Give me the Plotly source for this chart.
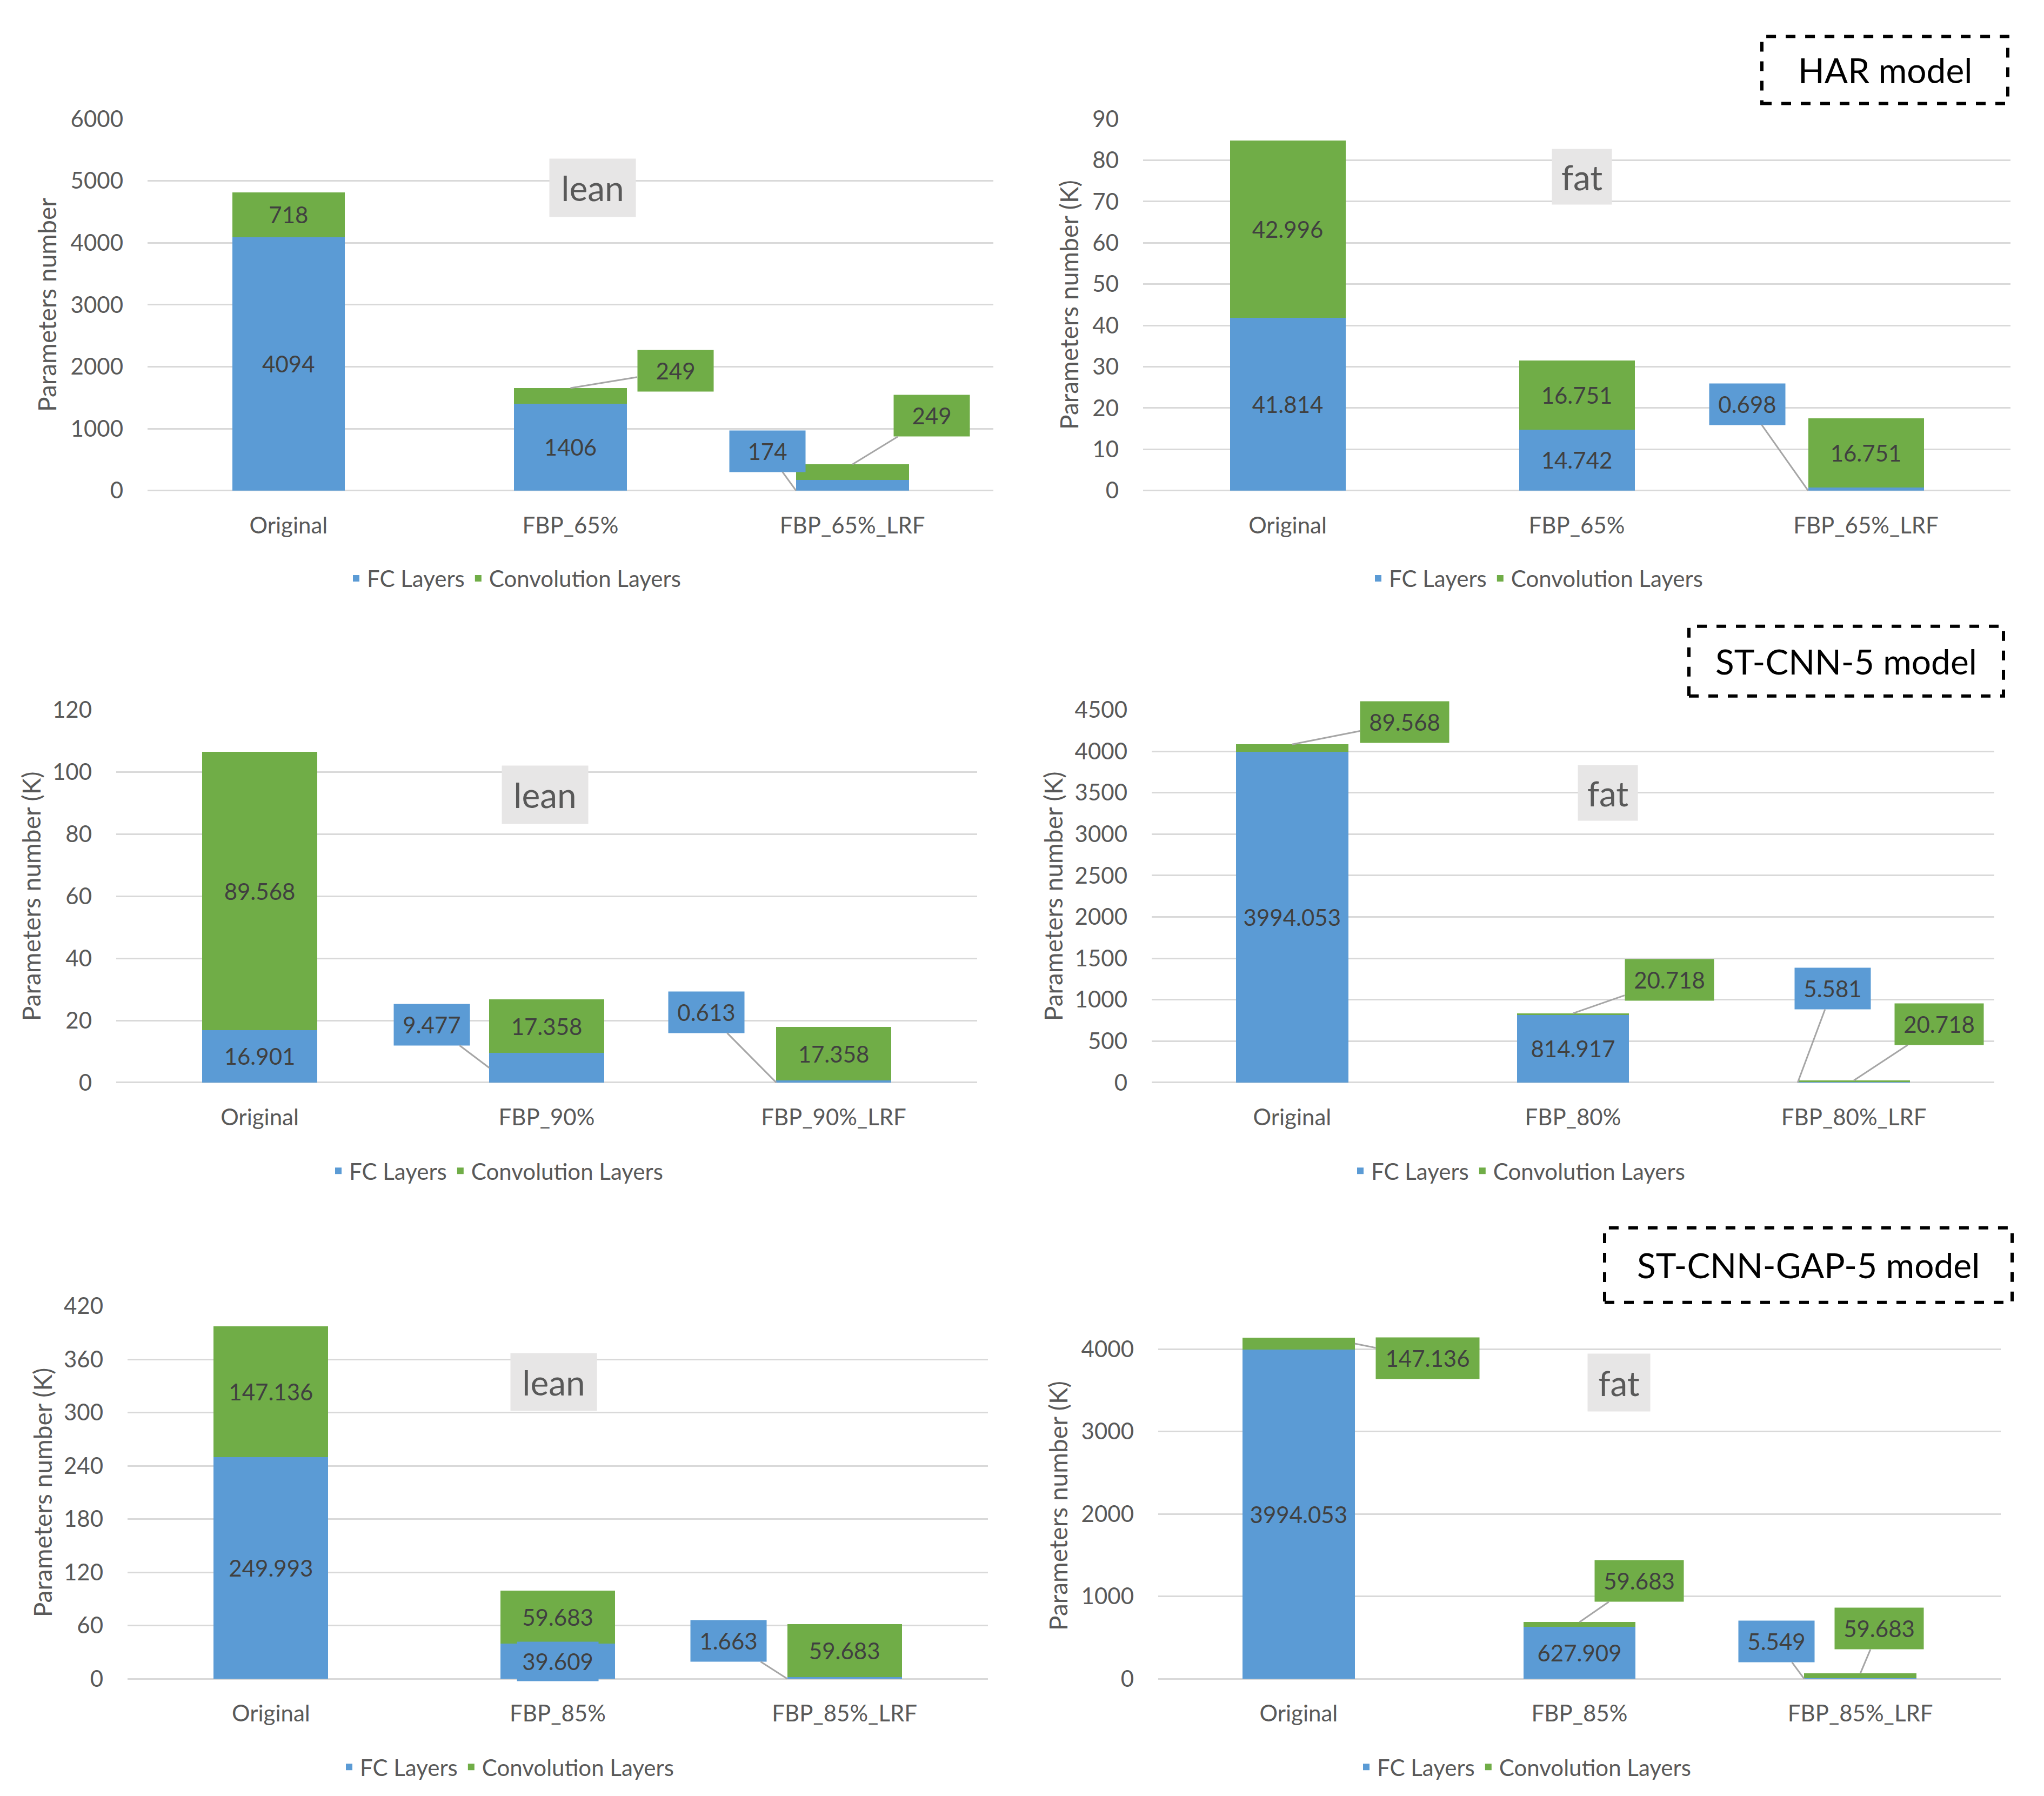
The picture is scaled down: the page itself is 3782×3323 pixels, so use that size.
import plotly.graph_objects as go

W, H = 3782, 3323
BLUE = "#5B9BD5"
GREEN = "#70AD47"
GRID = "#D9D9D9"
TXT = "#595959"
LBL = "#404040"
FONT = "Lato, 'Open Sans', sans-serif"

# HAR model
har_cats = ["Original", "FBP_65%", "FBP_65%_LRF"]
har_lean_fc = [4094, 1406, 174]
har_lean_conv = [718, 249, 249]
har_fat_fc = [41.814, 14.742, 0.698]
har_fat_conv = [42.996, 16.751, 16.751]

# ST-CNN-5 model
stcnn_lean_cats = ["Original", "FBP_90%", "FBP_90%_LRF"]
stcnn_lean_fc = [16.901, 9.477, 0.613]
stcnn_lean_conv = [89.568, 17.358, 17.358]
stcnn_fat_cats = ["Original", "FBP_80%", "FBP_80%_LRF"]
stcnn_fat_fc = [3994.053, 814.917, 5.581]
stcnn_fat_conv = [89.568, 20.718, 20.718]

# ST-CNN-GAP-5 model
gap_cats = ["Original", "FBP_85%", "FBP_85%_LRF"]
gap_lean_fc = [249.993, 39.609, 1.663]
gap_lean_conv = [147.136, 59.683, 59.683]
gap_fat_fc = [3994.053, 627.909, 5.549]
gap_fat_conv = [147.136, 59.683, 59.683]

series_names = ["FC Layers", "Convolution Layers"]

# layout of each panel in page pixels; callouts: (series, index, anchor, side, ax, ay)
panels = [
    dict(cats=har_cats, fc=har_lean_fc, conv=har_lean_conv, ymax=6000, dtick=1000,
         ytitle="Parameters number", box=(265, 1830, 189, 887), legend=(944, 1052),
         ytitle_x=79, tag="lean", tag_box=(1088, 318, 159, 107),
         callouts=[("conv", 1, "top", 0, 194, -32), ("fc", 2, "zero", -1, -53, -73),
                   ("conv", 2, "top", 0, 147, -90)]),
    dict(cats=har_cats, fc=har_fat_fc, conv=har_fat_conv, ymax=90, dtick=10,
         ytitle="Parameters number (K)", box=(2107, 3712, 189, 887), legend=(2835, 1052),
         ytitle_x=1970, tag="fat", tag_box=(2919, 297, 110, 102),
         callouts=[("fc", 2, "zero", -1, -113, -160)]),
    dict(cats=stcnn_lean_cats, fc=stcnn_lean_fc, conv=stcnn_lean_conv, ymax=120, dtick=20,
         ytitle="Parameters number (K)", box=(207, 1800, 1299, 1999), legend=(911, 2165),
         ytitle_x=49, tag="lean", tag_box=(1000, 1458, 159, 107),
         callouts=[("fc", 1, "mid", -1, -106, -80), ("fc", 2, "zero", -1, -129, -130)]),
    dict(cats=stcnn_fat_cats, fc=stcnn_fat_fc, conv=stcnn_fat_conv, ymax=4500, dtick=500,
         ytitle="Parameters number (K)", box=(2123, 3682, 1299, 1999), legend=(2802, 2165),
         ytitle_x=1940, tag="fat", tag_box=(2967, 1455, 110, 102),
         callouts=[("conv", 0, "top", 0, 208, -41), ("conv", 1, "top", 0, 178, -62),
                   ("fc", 2, "zero", -1, 65, -174), ("conv", 2, "top", 0, 158, -104)]),
    dict(cats=gap_cats, fc=gap_lean_fc, conv=gap_lean_conv, ymax=420, dtick=60,
         ytitle="Parameters number (K)", box=(228, 1820, 2419, 3119), legend=(931, 3285),
         ytitle_x=70, tag="lean", tag_box=(1016, 2562, 159, 106),
         callouts=[("fc", 2, "zero", -1, -109, -70)], boxed=[("fc", 1)]),
    dict(cats=gap_cats, fc=gap_fat_fc, conv=gap_fat_conv, ymax=4200, dtick=1000,
         ytitle="Parameters number (K)", box=(2135, 3694, 2469, 3119), legend=(2813, 3285),
         ytitle_x=1950, tag="fat", tag_box=(2987, 2563, 115, 106),
         callouts=[("conv", 0, "mid", 1, 135, 27), ("conv", 1, "top", 0, 110, -76),
                   ("fc", 2, "zero", -1, -51, -69), ("conv", 2, "top", 0, 35, -83)]),
]

model_boxes = [
    ("HAR model", (3252, 34, 3707, 160)),
    ("ST-CNN-5 model", (3117, 1142, 3699, 1273)),
    ("ST-CNN-GAP-5 model", (2961, 2272, 3715, 2412)),
]

fig = go.Figure()

for k, p in enumerate(panels, 1):
    sfx = "" if k == 1 else str(k)
    xa, ya, lg = "x" + sfx, "y" + sfx, "legend" + sfx
    x0, x1, yt, yb = p["box"]
    skip = {(c[0], c[1]) for c in p["callouts"]} | set(p.get("boxed", []))
    for s, vals, color, name in [("fc", p["fc"], BLUE, series_names[0]),
                                 ("conv", p["conv"], GREEN, series_names[1])]:
        text = ["" if (s, i) in skip else str(v) for i, v in enumerate(vals)]
        fig.add_trace(go.Bar(
            x=p["cats"], y=vals, name=name, marker=dict(color=color, line_width=0),
            text=text, textposition="inside", insidetextanchor="middle", textangle=0,
            insidetextfont=dict(family=FONT, size=42, color=LBL),
            xaxis=xa, yaxis=ya, legend=lg, hoverinfo="x+y+name",
        ))

    fig.update_layout(**{
        "xaxis" + sfx: dict(domain=[x0 / W, x1 / W], anchor=ya, showgrid=False, showline=False,
                            ticks="", ticklabelstandoff=36,
                            tickfont=dict(family=FONT, size=42, color=TXT)),
        "yaxis" + sfx: dict(domain=[1 - yb / H, 1 - yt / H], anchor=xa, range=[0, p["ymax"]],
                            dtick=p["dtick"], showgrid=True, gridcolor=GRID, gridwidth=3,
                            zeroline=True, zerolinecolor=GRID, zerolinewidth=3,
                            showline=False, ticks="", ticklabelstandoff=44,
                            tickfont=dict(family=FONT, size=42, color=TXT)),
        lg: dict(orientation="h", x=p["legend"][0] / W, y=1 - p["legend"][1] / H,
                 xanchor="center", yanchor="middle", bgcolor="rgba(0,0,0,0)",
                 font=dict(family=FONT, size=42, color=TXT), traceorder="normal"),
    })

    # y-axis title
    fig.add_annotation(x=p["ytitle_x"] / W, y=1 - (yt + yb) / 2 / H, xref="paper", yref="paper",
                       xanchor="center", yanchor="middle",
                       text=p["ytitle"], textangle=-90, showarrow=False,
                       font=dict(family=FONT, size=46, color=TXT))

    # lean / fat tag
    tx, ty, tw, th = p["tag_box"]
    fig.add_annotation(x=tx / W, y=1 - ty / H, xref="paper", yref="paper", text=p["tag"],
                       xanchor="center", yanchor="middle",
                       showarrow=False, bgcolor="#E7E6E6", width=tw, height=th, borderpad=0,
                       font=dict(family=FONT, size=64, color=TXT))

    # callout labels with leader lines
    half_bar = 0.4 * (x1 - x0) / 3 / 2
    for s, i, where, side, ax, ay in p["callouts"]:
        f, c = p["fc"][i], p["conv"][i]
        val = f if s == "fc" else c
        if where == "top":
            ytip = f + c
        elif where == "mid":
            ytip = f / 2 if s == "fc" else f + c / 2
        else:
            ytip = 0
        label = str(val)
        fig.add_annotation(x=p["cats"][i], y=ytip, xref=xa, yref=ya, xshift=side * half_bar,
                           text=label, showarrow=True, arrowhead=0, arrowwidth=3,
                           arrowcolor="#A6A6A6", ax=ax, ay=ay, standoff=0,
                           bgcolor=BLUE if s == "fc" else GREEN,
                           width=max(140, 27 * len(label) + 2), height=76, borderpad=0,
                           font=dict(family=FONT, size=42, color=LBL))

    # label with its own filled box, no leader
    for s, i in p.get("boxed", []):
        f, c = p["fc"][i], p["conv"][i]
        val = f if s == "fc" else c
        fig.add_annotation(x=p["cats"][i], y=f / 2 if s == "fc" else f + c / 2,
                           xref=xa, yref=ya, text=str(val), showarrow=False,
                           bgcolor=BLUE if s == "fc" else GREEN, width=150, height=72,
                           borderpad=0, font=dict(family=FONT, size=42, color=LBL))

# dashed model name boxes
for name, (bx0, by0, bx1, by1) in model_boxes:
    fig.add_shape(type="rect", xref="paper", yref="paper",
                  x0=bx0 / W, x1=bx1 / W, y0=1 - by1 / H, y1=1 - by0 / H,
                  line=dict(color="black", width=6, dash="dash"))
    fig.add_annotation(x=(bx0 + bx1) / 2 / W, y=1 - (by0 + by1) / 2 / H, xref="paper",
                       yref="paper", xanchor="center", yanchor="middle",
                       text=name, showarrow=False,
                       font=dict(family=FONT, size=64, color="black"))

fig.update_layout(
    width=W, height=H, margin=dict(l=0, r=0, t=0, b=0),
    barmode="stack", bargap=0.6,
    paper_bgcolor="white", plot_bgcolor="white",
    font=dict(family=FONT, color=TXT),
)

fig.write_html("out.html")
